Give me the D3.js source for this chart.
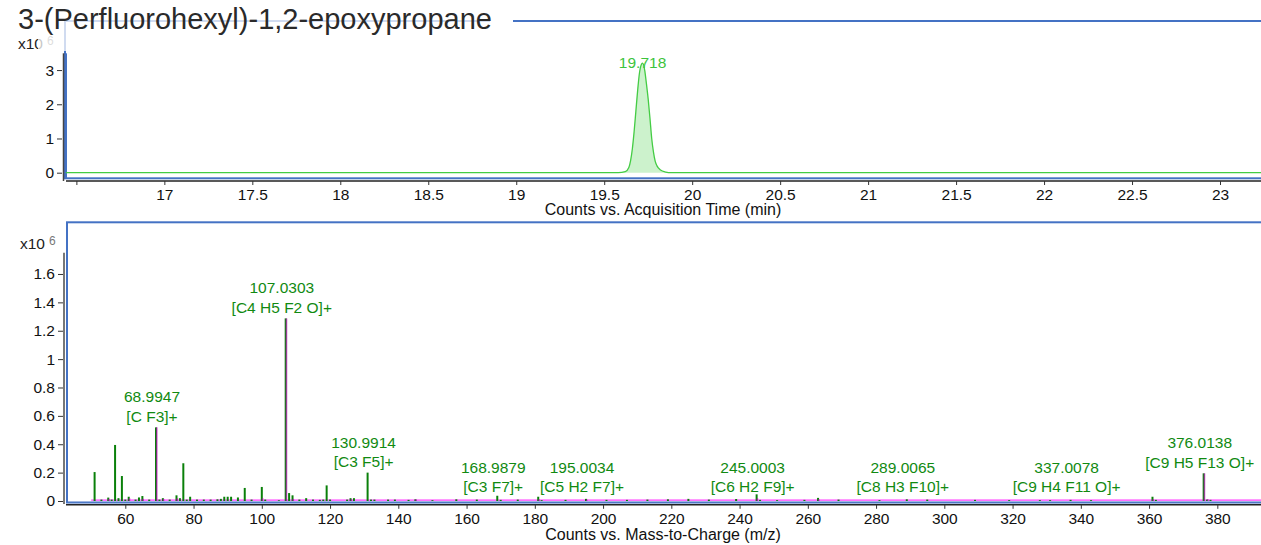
<!DOCTYPE html>
<html>
<head>
<meta charset="utf-8">
<script src="https://cdn.jsdelivr.net/npm/d3@7"></script>
<style>
  body { margin: 0; background: #fff; }
  svg { display: block; }
  text { font-family: "Liberation Sans", Arial, sans-serif; }
</style>
</head>
<body>
<svg id="chart" width="1261" height="545"></svg>
<script>
// ---- compound ----
const compoundName = "3-(Perfluorohexyl)-1,2-epoxypropane";

// ---- chromatogram (counts x10^6 vs. retention time, min) ----
const ticTimes  = [16.44, 19.58, 19.62, 19.64, 19.65, 19.66, 19.67, 19.68, 19.69, 19.70, 19.71, 19.718,
                   19.73, 19.74, 19.75, 19.76, 19.77, 19.78, 19.79, 19.80, 19.82, 19.85, 19.88, 23.25];
const ticCounts = [0, 0, 0.03, 0.15, 0.35, 0.7, 1.2, 1.8, 2.4, 2.9, 3.15, 3.2,
                   3.0, 2.6, 2.15, 1.6, 1.0, 0.6, 0.33, 0.2, 0.08, 0.02, 0, 0];
const apexTime = 19.718;
const apexCounts = 3.2;
const timeTicks = [16.5, 17, 17.5, 18, 18.5, 19, 19.5, 20, 20.5, 21, 21.5, 22, 22.5, 23];
const timeTickLabels = ["", "17", "17.5", "18", "18.5", "19", "19.5", "20", "20.5", "21", "21.5", "22", "22.5", "23"];
const ticYTicks = [0, 1, 2, 3];
const ticYTickLabels = ["0", "1", "2", "3"];

// ---- mass spectrum (counts x10^6 vs. m/z) ----
const specMz = [51, 53, 55, 56, 57, 58, 59, 60, 61, 63, 64, 65, 67, 69, 70, 71, 73, 75, 76, 77, 78, 79, 81, 83,
                85, 87, 88, 89, 90, 91, 93, 95, 97, 100, 101, 105, 107, 108, 109, 111, 113, 115, 117, 118, 119, 120,
                125, 126, 127, 131, 132, 133, 137, 139, 143, 145, 150, 157, 163, 169, 170, 175, 181, 182, 189, 195,
                201, 207, 213, 219, 225, 231, 239, 245, 246, 251, 259, 263, 269, 281, 289, 295, 309, 319, 328, 331,
                337, 343, 361, 362, 376, 377, 378];
const specCounts = [0.204, 0.01, 0.024, 0.01, 0.395, 0.02, 0.176, 0.01, 0.03, 0.01, 0.025, 0.035, 0.01, 0.519, 0.01,
                    0.02, 0.01, 0.04, 0.02, 0.266, 0.01, 0.03, 0.01, 0.01, 0.01, 0.012, 0.015, 0.03, 0.03, 0.03, 0.025,
                    0.092, 0.01, 0.099, 0.01, 0.005, 1.287, 0.056, 0.04, 0.01, 0.02, 0.01, 0.008, 0.01, 0.11, 0.01,
                    0.01, 0.02, 0.02, 0.2, 0.01, 0.01, 0.01, 0.01, 0.008, 0.012, 0.006, 0.012, 0.01, 0.037, 0.008, 0.01,
                    0.03, 0.006, 0.008, 0.015, 0.008, 0.008, 0.01, 0.012, 0.015, 0.01, 0.014, 0.047, 0.008, 0.006, 0.008,
                    0.022, 0.01, 0.006, 0.012, 0.01, 0.008, 0.006, 0.006, 0.006, 0.008, 0.006, 0.03, 0.008, 0.195, 0.01, 0.008];
// overlaid scan (magenta)
const overlayMz = [55, 61, 65, 69, 71, 75, 100, 107, 109, 126, 145, 181, 195, 245, 263, 361, 376, 377];
const overlayCounts = [0.015, 0.02, 0.015, 0.519, 0.015, 0.02, 0.02, 1.287, 0.015, 0.012, 0.01, 0.012, 0.01, 0.02, 0.012, 0.012, 0.195, 0.012];
const overlayNoiseStart = 50;
const overlayNoiseLevel = 0.012;

// annotated ions
const ionMz = [68.9947, 107.0303, 130.9914, 168.9879, 195.0034, 245.0003, 289.0065, 337.0078, 376.0138];
const ionCounts = [0.519, 1.287, 0.2, 0.037, 0.015, 0.047, 0.012, 0.008, 0.195];
const ionFormulas = ["[C F3]+", "[C4 H5 F2 O]+", "[C3 F5]+", "[C3 F7]+", "[C5 H2 F7]+", "[C6 H2 F9]+",
                     "[C8 H3 F10]+", "[C9 H4 F11 O]+", "[C9 H5 F13 O]+"];

const mzTicks = [60, 80, 100, 120, 140, 160, 180, 200, 220, 240, 260, 280, 300, 320, 340, 360, 380];
const mzTickLabels = mzTicks.map(String);
const msYTicks = [0, 0.2, 0.4, 0.6, 0.8, 1, 1.2, 1.4, 1.6];
const msYTickLabels = ["0", "0.2", "0.4", "0.6", "0.8", "1", "1.2", "1.4", "1.6"];

// ---- drawing ----
const svg = d3.select("#chart");
const W = 1261;
const frameBlue = "#4472c4";
const tickFont = "15.5px";

function yAxisLabels(g, scale, ticks, labels, x) {
  const ax = d3.axisLeft(scale).tickValues(ticks).tickFormat((d, i) => labels[i]).tickSize(5).tickPadding(3);
  const a = g.append("g").attr("transform", `translate(${x},0)`).call(ax);
  a.select(".domain").remove();
  a.selectAll("line").attr("stroke", "#333");
  a.selectAll("text").attr("font-size", tickFont).attr("fill", "#111")
    .attr("font-family", '"Liberation Sans", Arial, sans-serif');
}
function xAxisLabels(g, scale, ticks, labels, y) {
  const ax = d3.axisBottom(scale).tickValues(ticks).tickFormat((d, i) => labels[i]).tickSize(4).tickPadding(4);
  const a = g.append("g").attr("transform", `translate(0,${y})`).call(ax);
  a.select(".domain").remove();
  a.selectAll("line").attr("stroke", "#333");
  a.selectAll("text").attr("font-size", tickFont).attr("fill", "#111")
    .attr("font-family", '"Liberation Sans", Arial, sans-serif');
}
function exponentLabel(g, x, y) {
  const t = g.append("text").attr("x", x).attr("y", y).attr("font-size", "15.5px").attr("fill", "#222");
  t.append("tspan").text("x10");
  t.append("tspan").attr("dx", 4).attr("dy", -4).attr("font-size", "12px").attr("fill", "#777").text("6");
}

// ===== upper panel: chromatogram =====
const chromPanel = svg.append("g");
const xT = d3.scaleLinear().domain([16.441, 23.233]).range([66, W]);
const yT = d3.scaleLinear().domain([0, 3.49]).range([172.7, 53.3]);

chromPanel.append("rect").attr("x", 65).attr("y", 21).attr("width", W + 10 - 65).attr("height", 157.3)
  .attr("fill", "none").attr("stroke", frameBlue).attr("stroke-width", 2);
chromPanel.append("line").attr("x1", 65.5).attr("x2", 65.5).attr("y1", yT.range()[1]).attr("y2", 178)
  .attr("stroke", frameBlue).attr("stroke-width", 3);
chromPanel.append("line").attr("x1", 63.5).attr("x2", 63.5).attr("y1", yT.range()[1]).attr("y2", 181)
  .attr("stroke", "#444").attr("stroke-width", 1.5);
chromPanel.append("line").attr("x1", 66).attr("x2", W).attr("y1", 181).attr("y2", 181)
  .attr("stroke", "#222").attr("stroke-width", 1.5);

const ticPts = ticTimes.map((t, i) => [t, ticCounts[i]]);
chromPanel.append("path").datum(ticPts)
  .attr("d", d3.area().x(d => xT(d[0])).y0(yT(0)).y1(d => yT(d[1])).curve(d3.curveMonotoneX))
  .attr("fill", "#33cc33").attr("fill-opacity", 0.25);
chromPanel.append("path").datum(ticPts)
  .attr("d", d3.line().x(d => xT(d[0])).y(d => yT(d[1])).curve(d3.curveMonotoneX))
  .attr("fill", "none").attr("stroke", "#44cc44").attr("stroke-width", 1.3);
chromPanel.append("text").attr("x", xT(apexTime)).attr("y", yT(apexCounts) - 1).attr("dy", "0.35em")
  .attr("text-anchor", "middle").attr("font-size", "15.5px").attr("fill", "#3cc43c").text(apexTime.toFixed(3));

yAxisLabels(chromPanel, yT, ticYTicks, ticYTickLabels, 62);
xAxisLabels(chromPanel, xT, timeTicks, timeTickLabels, 181);
exponentLabel(chromPanel, 18, 49);
chromPanel.append("text").attr("x", 663).attr("y", 215).attr("text-anchor", "middle")
  .attr("font-size", "16px").attr("fill", "#111").text("Counts vs. Acquisition Time (min)");

// ===== lower panel: mass spectrum =====
const specPanel = svg.append("g");
const xB = d3.scaleLinear().domain([42.62, 392.8]).range([66, W]);
const yB = d3.scaleLinear().domain([0, 1.75]).range([501, 252.7]);

specPanel.append("rect").attr("x", 67).attr("y", 222.3).attr("width", W + 10 - 67).attr("height", 280.2)
  .attr("fill", "none").attr("stroke", frameBlue).attr("stroke-width", 2);
specPanel.append("line").attr("x1", 64).attr("x2", 64).attr("y1", yB.range()[1]).attr("y2", 504)
  .attr("stroke", "#777").attr("stroke-width", 2);
specPanel.append("line").attr("x1", 66).attr("x2", W).attr("y1", 504.8).attr("y2", 504.8)
  .attr("stroke", "#222").attr("stroke-width", 1.5);
specPanel.append("line").attr("x1", 68).attr("x2", W).attr("y1", 501.6).attr("y2", 501.6)
  .attr("stroke", "#9fb6e0").attr("stroke-width", 1);

// overlay scan baseline noise
specPanel.append("rect").attr("x", xB(overlayNoiseStart)).attr("y", yB(overlayNoiseLevel))
  .attr("width", W - xB(overlayNoiseStart)).attr("height", yB(0) - yB(overlayNoiseLevel))
  .attr("fill", "#ff33ff").attr("fill-opacity", 0.7);

// measured spectrum sticks
specPanel.append("g").selectAll("line").data(specMz.map((m, i) => [m, specCounts[i]])).join("line")
  .attr("x1", d => xB(d[0])).attr("x2", d => xB(d[0]))
  .attr("y1", yB(0)).attr("y2", d => yB(d[1]))
  .attr("stroke", "#0a800a").attr("stroke-width", 2);

// overlaid scan sticks
specPanel.append("g").selectAll("line").data(overlayMz.map((m, i) => [m, overlayCounts[i]])).join("line")
  .attr("x1", d => xB(d[0]) + 0.8).attr("x2", d => xB(d[0]) + 0.8)
  .attr("y1", yB(0)).attr("y2", d => yB(d[1]))
  .attr("stroke", "#c000c0").attr("stroke-opacity", 0.6).attr("stroke-width", 1.6);

// ion annotations
const base = yB(0);
ionMz.forEach((m, i) => {
  const py = yB(ionCounts[i]);
  const fy = py < base - 20 ? py - 11 : base - 14;
  const x = xB(m) - 4;
  specPanel.append("text").attr("x", x).attr("y", fy - 19.5).attr("dy", "0.35em").attr("text-anchor", "middle")
    .attr("font-size", "15.5px").attr("fill", "#118a11").text(m.toFixed(4));
  specPanel.append("text").attr("x", x).attr("y", fy).attr("dy", "0.35em").attr("text-anchor", "middle")
    .attr("font-size", "15.5px").attr("fill", "#118a11").text(ionFormulas[i]);
});

yAxisLabels(specPanel, yB, msYTicks, msYTickLabels, 63);
xAxisLabels(specPanel, xB, mzTicks, mzTickLabels, 504.8);
exponentLabel(specPanel, 20, 249);
specPanel.append("text").attr("x", 663).attr("y", 540).attr("text-anchor", "middle")
  .attr("font-size", "16px").attr("fill", "#111").text("Counts vs. Mass-to-Charge (m/z)");

// ===== title with translucent backing =====
svg.append("rect").attr("x", 38).attr("y", 0).attr("width", 452).attr("height", 51)
  .attr("fill", "#fff").attr("fill-opacity", 0.75);
svg.append("rect").attr("x", 490).attr("y", 12).attr("width", 23).attr("height", 20).attr("fill", "#fff");
svg.append("text").attr("x", 18).attr("y", 29).attr("font-family", "Roboto, sans-serif")
  .attr("font-weight", 300).attr("font-size", "29px").attr("fill", "#2a2a2a").text(compoundName);
</script>
</body>
</html>
